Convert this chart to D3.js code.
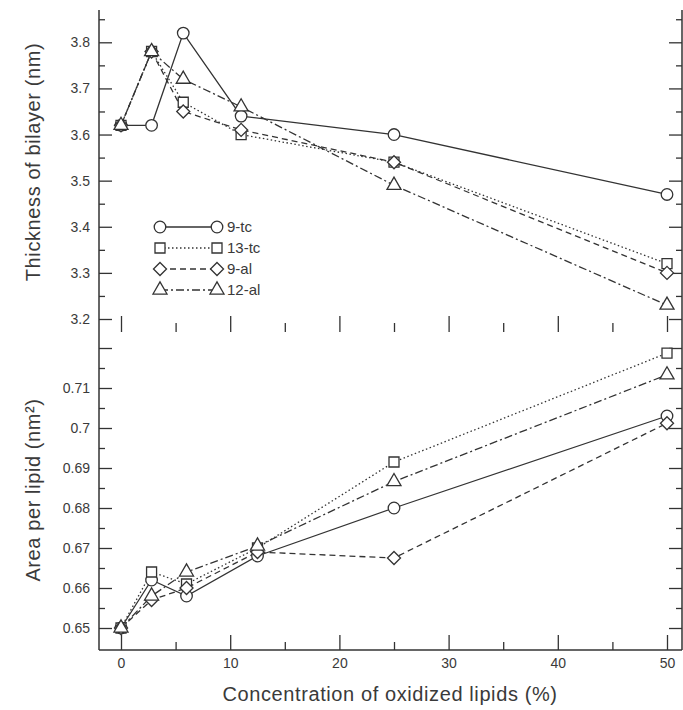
<!DOCTYPE html>
<html>
<head>
<meta charset="utf-8">
<script src="https://cdn.jsdelivr.net/npm/d3@7"></script>
<style>
  html, body { margin: 0; padding: 0; background: #fff; }
  svg { display: block; }
  text { font-family: "Liberation Sans", Arial, sans-serif; fill: #3a3a3a; }
</style>
</head>
<body>
<svg id="chart" width="683" height="710"></svg>
<script>
// ---- Data ----
const seriesNames = ["9-tc", "13-tc", "9-al", "12-al"];
const xTop = [0, 2.8, 5.7, 11, 25, 50];          // concentration (%) – thickness panel
const xBottom = [0, 2.8, 6, 12.5, 25, 50];       // concentration (%) – area panel
const thick9tc  = [3.62, 3.62, 3.82, 3.64, 3.60, 3.47];
const thick13tc = [3.62, 3.78, 3.67, 3.60, 3.54, 3.32];
const thick9al  = [3.62, 3.78, 3.65, 3.61, 3.54, 3.30];
const thick12al = [3.62, 3.78, 3.72, 3.66, 3.49, 3.23];
const area9tc  = [0.650, 0.662, 0.658, 0.668, 0.680, 0.703];
const area13tc = [0.650, 0.664, 0.661, 0.670, 0.6915, 0.7187];
const area9al  = [0.650, 0.657, 0.660, 0.669, 0.6675, 0.7012];
const area12al = [0.650, 0.658, 0.664, 0.6705, 0.6866, 0.7133];
const xTickValues = [0, 10, 20, 30, 40, 50];
const xTickLabels = ["0", "10", "20", "30", "40", "50"];
const xMinorValues = [5, 15, 25, 35, 45];
const topTickValues = [3.2, 3.3, 3.4, 3.5, 3.6, 3.7, 3.8];
const topTickLabels = ["3.2", "3.3", "3.4", "3.5", "3.6", "3.7", "3.8"];
const topMinorValues = [3.25, 3.35, 3.45, 3.55, 3.65, 3.75, 3.85];
const botTickValues = [0.65, 0.66, 0.67, 0.68, 0.69, 0.70, 0.71, 0.72];
const botTickLabels = ["0.65", "0.66", "0.67", "0.68", "0.69", "0.7", "0.71", ""];
const botMinorValues = [0.655, 0.665, 0.675, 0.685, 0.695, 0.705, 0.715];
const xTitle = "Concentration of oxidized lipids (%)";
const yTopTitle = "Thickness of bilayer (nm)";
const yBotTitle = "Area per lipid (nm²)";

// ---- Styles ----
const ink = "#333";
const diamondSym = {
  draw(ctx, size) {
    const r = Math.sqrt(size / 2);
    ctx.moveTo(0, -r); ctx.lineTo(r, 0); ctx.lineTo(0, r); ctx.lineTo(-r, 0); ctx.closePath();
  }
};
const symbols = [d3.symbolCircle, d3.symbolSquare, diamondSym, d3.symbolTriangle];
const symSizes = [105, 100, 85, 85];
const dashes = [null, "1.5,2.5", "6,4", "8,3,2,3"];

const topSeries = [thick9tc, thick13tc, thick9al, thick12al];
const botSeries = [area9tc, area13tc, area9al, area12al];

const svg = d3.select("#chart");
const leftX = 99, rightX = 682;
const x = d3.scaleLinear().domain([0, 50]).range([121, 667]);
const yTop = d3.scaleLinear().domain([3.2, 3.8]).range([319, 42.3]);
const yBot = d3.scaleLinear().domain([0.65, 0.71]).range([628, 388]);
const panelTop = 10, panelMid = 332, panelBottom = 650;

// Frame lines
svg.append("line").attr("x1", leftX).attr("x2", leftX).attr("y1", panelTop).attr("y2", panelBottom)
  .attr("stroke", ink).attr("stroke-width", 1.5);
svg.append("line").attr("x1", rightX).attr("x2", rightX).attr("y1", panelTop).attr("y2", panelBottom)
  .attr("stroke", ink).attr("stroke-width", 1.5);
svg.append("line").attr("x1", leftX).attr("x2", rightX).attr("y1", panelBottom).attr("y2", panelBottom)
  .attr("stroke", ink).attr("stroke-width", 1.5);

function styleAxis(g) {
  g.select(".domain").remove();
  g.selectAll("line").attr("stroke", ink).attr("stroke-width", 1.3);
  g.selectAll("text").attr("font-size", 14).attr("fill", "#3a3a3a")
    .style("font-family", "'Liberation Sans', Arial, sans-serif");
}

// Left/right axes (ticks inward)
function sideAxes(scale, vals, labels, minors) {
  svg.append("g").attr("transform", `translate(${leftX},0)`)
    .call(d3.axisLeft(scale).tickValues(vals).tickSizeInner(-13).tickSizeOuter(0).tickPadding(9)
      .tickFormat((d, i) => labels[i]))
    .call(styleAxis);
  svg.append("g").attr("transform", `translate(${leftX},0)`)
    .call(d3.axisLeft(scale).tickValues(minors).tickSizeInner(-6).tickSizeOuter(0).tickFormat(""))
    .call(styleAxis);
  svg.append("g").attr("transform", `translate(${rightX},0)`)
    .call(d3.axisRight(scale).tickValues(vals).tickSizeInner(-13).tickSizeOuter(0).tickFormat(""))
    .call(styleAxis);
  svg.append("g").attr("transform", `translate(${rightX},0)`)
    .call(d3.axisRight(scale).tickValues(minors).tickSizeInner(-6).tickSizeOuter(0).tickFormat(""))
    .call(styleAxis);
}
sideAxes(yTop, topTickValues, topTickLabels, topMinorValues);
sideAxes(yBot, botTickValues, botTickLabels, botMinorValues);

// X axes: bottom with labels, mid (top panel bottom) ticks only
svg.append("g").attr("transform", `translate(0,${panelBottom})`)
  .call(d3.axisBottom(x).tickValues(xTickValues).tickSizeInner(-15).tickSizeOuter(0).tickPadding(8)
    .tickFormat((d, i) => xTickLabels[i]))
  .call(styleAxis);
svg.append("g").attr("transform", `translate(0,${panelBottom})`)
  .call(d3.axisBottom(x).tickValues(xMinorValues).tickSizeInner(-8).tickSizeOuter(0).tickFormat(""))
  .call(styleAxis);
svg.append("g").attr("transform", `translate(0,${panelMid})`)
  .call(d3.axisBottom(x).tickValues(xTickValues).tickSizeInner(-16).tickSizeOuter(0).tickFormat(""))
  .call(styleAxis);
svg.append("g").attr("transform", `translate(0,${panelMid})`)
  .call(d3.axisBottom(x).tickValues(xMinorValues).tickSizeInner(-9).tickSizeOuter(0).tickFormat(""))
  .call(styleAxis);

// Series
function drawPanel(xs, seriesList, yScale) {
  const line = d3.line().x((d, i) => x(xs[i])).y(d => yScale(d));
  seriesList.forEach((vals, s) => {
    svg.append("path").datum(vals)
      .attr("d", line)
      .attr("fill", "none")
      .attr("stroke", ink)
      .attr("stroke-width", 1.3)
      .attr("stroke-dasharray", dashes[s]);
  });
  seriesList.forEach((vals, s) => {
    svg.append("g").selectAll("path").data(vals).join("path")
      .attr("transform", (d, i) => `translate(${x(xs[i])},${yScale(d)})`)
      .attr("d", d3.symbol().type(symbols[s]).size(symSizes[s]))
      .attr("fill", "#fff")
      .attr("stroke", ink)
      .attr("stroke-width", 1.3);
  });
}
drawPanel(xTop, topSeries, yTop);
drawPanel(xBottom, botSeries, yBot);

// Legend
const legendRows = [227, 248, 269, 290];
const lg = svg.append("g");
seriesNames.forEach((name, s) => {
  const ly = legendRows[s];
  lg.append("line").attr("x1", 160).attr("x2", 217).attr("y1", ly).attr("y2", ly)
    .attr("stroke", ink).attr("stroke-width", 1.3).attr("stroke-dasharray", dashes[s]);
  [160, 217].forEach(px => {
    lg.append("path").attr("transform", `translate(${px},${ly})`)
      .attr("d", d3.symbol().type(symbols[s]).size(symSizes[s]))
      .attr("fill", "#fff").attr("stroke", ink).attr("stroke-width", 1.3);
  });
  lg.append("text").attr("x", 227).attr("y", ly).attr("dy", "0.35em")
    .attr("font-size", 15).text(name);
});

// Titles
svg.append("text").attr("x", 390).attr("y", 701).attr("text-anchor", "middle")
  .attr("font-size", 20).attr("letter-spacing", 0.6).text(xTitle);
svg.append("text").attr("transform", "translate(40,162) rotate(-90)").attr("text-anchor", "middle")
  .attr("font-size", 20).attr("letter-spacing", 0.6).text(yTopTitle);
svg.append("text").attr("transform", "translate(40,490) rotate(-90)").attr("text-anchor", "middle")
  .attr("font-size", 20).attr("letter-spacing", 0.6).text(yBotTitle);
</script>
</body>
</html>
